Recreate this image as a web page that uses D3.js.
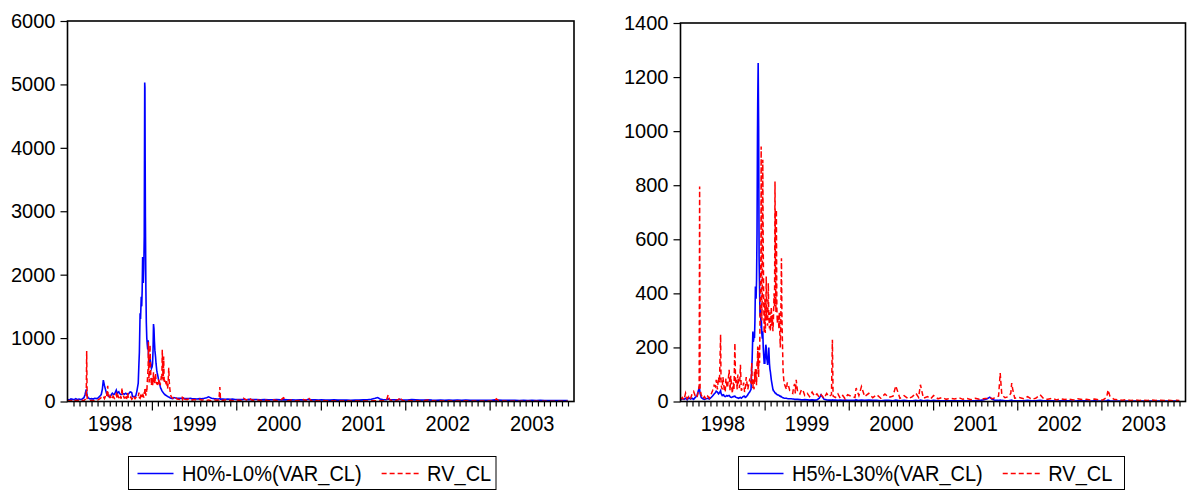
<!DOCTYPE html>
<html>
<head>
<meta charset="utf-8">
<script src="https://cdn.jsdelivr.net/npm/d3@7"></script>
<style>
body { margin: 0; background: #fff; }
text { font-family: "Liberation Sans", Arial, sans-serif; fill: #000; }
</style>
</head>
<body>
<div id="chart"></div>
<script>
var dates = [
  "1998-01-02","1998-01-09","1998-01-16","1998-01-23","1998-01-30",
  "1998-02-06","1998-02-13","1998-02-20","1998-02-27",
  "1998-03-06","1998-03-13","1998-03-18","1998-03-23","1998-03-25","1998-03-27",
  "1998-04-01","1998-04-08","1998-04-15","1998-04-22","1998-04-29",
  "1998-05-06","1998-05-13","1998-05-20","1998-05-27",
  "1998-06-01","1998-06-05","1998-06-10","1998-06-15","1998-06-19","1998-06-24","1998-06-26",
  "1998-07-01","1998-07-04","1998-07-07","1998-07-10","1998-07-14","1998-07-17","1998-07-21","1998-07-24","1998-07-31",
  "1998-08-04","1998-08-07","1998-08-11","1998-08-14","1998-08-18","1998-08-21","1998-08-25","1998-08-28",
  "1998-09-01","1998-09-04","1998-09-07","1998-09-10","1998-09-14","1998-09-18","1998-09-22","1998-09-29",
  "1998-10-02","1998-10-06","1998-10-09","1998-10-13","1998-10-16","1998-10-20","1998-10-23","1998-10-28",
  "1998-11-03","1998-11-06","1998-11-08","1998-11-11","1998-11-13","1998-11-16","1998-11-18","1998-11-20","1998-11-22","1998-11-25","1998-11-27","1998-11-29",
  "1998-12-01","1998-12-02","1998-12-03","1998-12-04","1998-12-06","1998-12-08","1998-12-10","1998-12-12","1998-12-14","1998-12-16","1998-12-17","1998-12-18","1998-12-20","1998-12-22","1998-12-24","1998-12-26","1998-12-28","1998-12-30",
  "1999-01-02","1999-01-04","1999-01-06","1999-01-08","1999-01-10","1999-01-12","1999-01-14","1999-01-17","1999-01-19","1999-01-22","1999-01-24","1999-01-26","1999-01-28","1999-01-30",
  "1999-02-01","1999-02-03","1999-02-06","1999-02-08","1999-02-11","1999-02-13","1999-02-15","1999-02-17","1999-02-19","1999-02-21","1999-02-23","1999-02-25","1999-02-27",
  "1999-03-02","1999-03-04","1999-03-06","1999-03-08","1999-03-10","1999-03-12","1999-03-15","1999-03-17","1999-03-19","1999-03-22","1999-03-25","1999-03-29",
  "1999-04-01","1999-04-06","1999-04-09","1999-04-14","1999-04-20","1999-04-26",
  "1999-05-03","1999-05-06","1999-05-11","1999-05-14","1999-05-18","1999-05-24",
  "1999-06-03","1999-06-10","1999-06-17","1999-06-24",
  "1999-07-05","1999-07-15","1999-07-26",
  "1999-08-05","1999-08-16","1999-08-26",
  "1999-09-03","1999-09-16","1999-09-27",
  "1999-10-07","1999-10-18","1999-10-22","1999-10-25",
  "1999-11-04","1999-11-15","1999-11-25",
  "1999-12-06","1999-12-16","1999-12-27",
  "2000-01-10","2000-01-28","2000-02-02","2000-02-14","2000-02-25","2000-03-10","2000-03-28","2000-04-14","2000-05-02","2000-05-19","2000-06-06","2000-06-23",
  "2000-07-11","2000-07-23","2000-08-10","2000-08-28","2000-09-15","2000-10-03","2000-10-18","2000-10-30","2000-11-07","2000-11-20","2000-12-08","2000-12-22",
  "2001-01-03","2001-01-22","2001-02-09","2001-02-27","2001-03-16","2001-04-04","2001-04-23","2001-05-10","2001-05-29","2001-06-15","2001-07-03","2001-07-20","2001-08-07",
  "2001-08-24","2001-09-04","2001-09-14","2001-09-28","2001-10-12","2001-10-19","2001-10-26","2001-11-09","2001-11-23","2001-12-04","2001-12-08","2001-12-12","2001-12-21",
  "2002-01-10","2002-01-29","2002-02-15","2002-03-05","2002-03-22","2002-04-10","2002-04-26","2002-05-14","2002-06-03","2002-06-20",
  "2002-07-09","2002-07-26","2002-08-14","2002-09-02","2002-09-20","2002-10-09","2002-10-28","2002-11-14","2002-12-03","2002-12-20",
  "2003-01-08","2003-01-24","2003-01-30","2003-02-07","2003-02-25","2003-03-14","2003-04-02","2003-04-21","2003-05-09","2003-05-28","2003-06-16",
  "2003-07-03","2003-07-22","2003-08-08","2003-08-27","2003-09-15","2003-10-02","2003-10-21","2003-11-07","2003-11-24","2003-12-05"
];

// H0%-L0%(VAR_CL), left panel
var varH0L0 = [
  30,25,40,35,28,
  45,30,38,32,
  40,60,110,189,150,90,
  55,40,45,38,50,
  45,55,80,110,
  200,336,250,180,126,110,95,
  73,80,90,110,130,120,110,120,178,
  126,140,152,130,115,112,110,118,
  120,115,125,130,118,110,120,152,
  150,140,75,78,80,82,85,160,
  290,600,780,1390,1300,1650,1500,1750,2280,1870,2100,2600,
  5030,4950,3800,2900,1800,1240,1000,900,820,967,760,700,652,600,680,620,560,520,
  546,600,800,1220,1150,950,810,700,600,494,450,420,380,340,
  320,290,240,210,190,170,160,150,140,130,120,115,105,
  100,95,90,85,80,75,70,66,62,55,50,47,
  46,60,58,55,52,50,
  50,52,49,48,50,45,
  45,48,50,42,
  44,40,45,
  42,50,60,
  73,50,45,
  42,40,48,38,
  40,36,38,
  35,38,32,
  32,30,36,28,34,30,32,26,30,25,28,30,
  26,30,25,28,24,26,28,24,34,26,25,24,
  26,24,22,25,22,24,22,20,24,22,25,28,35,
  50,63,40,28,30,40,32,28,26,30,34,30,24,
  24,30,26,22,24,26,22,20,22,20,
  22,20,21,19,22,20,20,18,20,19,
  20,25,22,21,18,18,17,18,16,17,16,
  17,16,17,16,16,15,16,15,16,15
];

// H5%-L30%(VAR_CL), right panel
var varH5L30 = [
  6,10,8,12,6,
  14,9,12,8,
  15,20,35,50,45,30,
  15,10,8,10,12,
  9,14,20,28,
  32,38,35,28,32,40,30,
  22,24,25,20,18,20,22,20,22,
  18,16,15,17,18,19,20,16,
  15,14,13,12,14,15,12,18,
  19,20,15,17,20,25,30,35,
  45,120,160,259,220,240,235,300,425,380,450,623,
  980,1100,1180,1252,1020,530,420,314,350,290,270,300,250,232,260,200,170,142,
  142,180,210,200,160,150,135,170,200,140,120,110,95,80,
  70,60,45,40,38,35,32,30,30,28,26,25,24,
  24,22,22,20,20,18,18,16,15,14,13,12,
  12,12,11,10,10,10,
  9,9,8,8,8,8,
  7,6,6,7,
  6,5,6,
  5,6,12,
  25,8,6,
  5,5,6,5,
  5,4,5,
  4,5,4,
  4,5,6,4,5,4,5,4,4,3,4,4,
  3,5,3,4,3,3,4,3,5,3,4,3,
  4,3,3,3,3,3,3,3,3,3,3,4,6,
  10,16,8,4,4,5,4,3,3,4,5,4,3,
  3,3,4,3,3,4,3,3,3,2,
  3,3,3,2,3,3,3,2,3,2,
  2,3,5,3,2,2,2,2,2,2,2,
  2,2,2,2,2,2,2,2,2,2
];

// RV_CL, drawn in both panels
var rvCL = [
  8,15,6,31,10,
  18,9,28,37,
  20,14,30,60,795,45,
  25,10,18,8,20,
  12,25,40,60,
  55,80,45,90,70,247,60,
  45,90,70,40,35,85,60,50,117,
  40,95,55,30,70,45,216,64,
  80,45,100,60,50,136,40,55,
  70,35,50,90,70,45,60,80,
  70,142,60,50,80,45,110,70,120,90,60,140,
  150,203,120,170,90,200,142,300,420,560,943,520,300,420,894,561,380,253,
  380,253,320,462,300,339,280,438,320,270,330,260,300,350,
  280,320,260,300,400,350,814,500,330,709,350,290,320,
  300,270,330,250,200,280,530,320,230,117,80,62,
  55,45,70,60,40,35,
  30,50,65,30,80,35,
  28,45,40,22,
  30,18,35,
  20,28,15,
  25,12,30,
  18,25,228,20,
  15,28,12,
  22,10,25,
  20,15,50,22,55,18,30,14,25,12,28,15,
  20,58,12,22,10,18,31,15,62,12,18,10,
  22,10,15,8,12,9,14,8,11,7,12,8,10,
  12,15,10,14,20,105,25,14,18,30,68,47,12,
  15,10,18,8,12,25,10,8,12,6,
  10,7,9,6,10,7,8,6,9,6,
  6,15,43,20,8,6,5,7,4,6,4,
  5,4,6,4,5,4,5,3,5,4
];

var yearLabels = ["1998", "1999", "2000", "2001", "2002", "2003"];
var yTicksLeft = [0, 1000, 2000, 3000, 4000, 5000, 6000];
var yTicksRight = [0, 200, 400, 600, 800, 1000, 1200, 1400];
var legendLeft = ["H0%-L0%(VAR_CL)", "RV_CL"];
var legendRight = ["H5%-L30%(VAR_CL)", "RV_CL"];

var w = 1187, h = 491;
var parseDate = d3.timeParse("%Y-%m-%d");
var svg = d3.select("#chart").append("svg").attr("width", w).attr("height", h);

var panels = [
    {left: 67.5, right: 574, top: 21, bottom: 401.5, yMax: 6000, yTicks: yTicksLeft,
     blue: varH0L0, legend: legendLeft, legendX: 128.5, legendW: 367.5},
    {left: 680.5, right: 1185.5, top: 23, bottom: 401.5, yMax: 1400, yTicks: yTicksRight,
     blue: varH5L30, legend: legendRight, legendX: 738.5, legendW: 386}
];

// the source picture is a little stretched vertically
var stretch = 1.1;

panels.forEach(function(p) {
    var xScale = d3.scaleTime()
        .domain([new Date(1998, 0, 1), new Date(2004, 0, 1)])
        .range([p.left, p.right]);
    var yScale = d3.scaleLinear().domain([0, p.yMax]).range([p.bottom, p.top]);

    var g = svg.append("g");

    // small ticks, about 14 a year
    var minor = [];
    yearLabels.forEach(function(yr) {
        for (var i = 1; i < 14; i++) {
            minor.push(d3.timeDay.offset(new Date(+yr, 0, 1), Math.round(i * 365 / 14)));
        }
    });
    var major = d3.timeYear.range(new Date(1999, 0, 1), new Date(2004, 0, 1));
    var labelDates = yearLabels.map(function(yr) { return new Date(+yr, 6, 2); });

    g.append("g").attr("transform", "translate(0," + p.bottom + ")")
        .call(d3.axisBottom(xScale).tickValues(minor).tickSize(5).tickFormat(""))
        .call(function(a) { a.select(".domain").remove(); });
    g.append("g").attr("transform", "translate(0," + p.bottom + ")")
        .call(d3.axisBottom(xScale).tickValues(major).tickSize(9).tickFormat(""))
        .call(function(a) { a.select(".domain").remove(); });
    g.append("g").attr("transform", "translate(0," + p.bottom + ")")
        .call(d3.axisBottom(xScale).tickValues(labelDates).tickSize(0).tickPadding(12.7)
            .tickFormat(function(d, i) { return yearLabels[i]; }))
        .call(function(a) { a.select(".domain").remove(); })
        .selectAll("text").style("font-size", "20px")
        .attr("transform", "scale(1," + stretch + ")");

    g.append("g").attr("transform", "translate(" + p.left + ",0)")
        .call(d3.axisLeft(yScale).tickValues(p.yTicks).tickSize(7).tickPadding(5)
            .tickFormat(d3.format("d")))
        .call(function(a) { a.select(".domain").remove(); })
        .selectAll("text").style("font-size", "20px");

    g.selectAll(".tick line").attr("stroke", "#000").attr("stroke-width", 1.2);
    g.selectAll(".tick text").attr("font-family", null);

    var rowsBlue = dates.map(function(d, i) { return {date: parseDate(d), v: p.blue[i]}; });
    var rowsRed = dates.map(function(d, i) { return {date: parseDate(d), v: rvCL[i]}; });

    var line = d3.line()
        .x(function(d) { return xScale(d.date); })
        .y(function(d) { return yScale(d.v); });

    g.append("path").datum(rowsBlue).attr("d", line)
        .attr("fill", "none").attr("stroke", "#0000ff").attr("stroke-width", 1.6);
    g.append("path").datum(rowsRed).attr("d", line)
        .attr("fill", "none").attr("stroke", "#ff0000").attr("stroke-width", 1.5)
        .attr("stroke-dasharray", "5,3");

    // frame round the plot
    g.append("rect").attr("x", p.left).attr("y", p.top)
        .attr("width", p.right - p.left).attr("height", p.bottom - p.top)
        .attr("fill", "none").attr("stroke", "#000").attr("stroke-width", 1.6);

    // legend
    var lg = svg.append("g").attr("transform", "translate(" + p.legendX + ",456.5)");
    lg.append("rect").attr("width", p.legendW).attr("height", 33)
        .attr("fill", "#fff").attr("stroke", "#000").attr("stroke-width", 1);
    lg.append("line").attr("x1", 9).attr("x2", 45).attr("y1", 17).attr("y2", 17)
        .attr("stroke", "#0000ff").attr("stroke-width", 1.5);
    var t1 = lg.append("text").attr("transform", "translate(53.5,24.8) scale(1," + stretch + ")")
        .style("font-size", "20px").text(p.legend[0]);
    var x2 = 53.5 + t1.node().getComputedTextLength() + 20;
    lg.append("line").attr("x1", x2).attr("x2", x2 + 37).attr("y1", 17).attr("y2", 17)
        .attr("stroke", "#ff0000").attr("stroke-width", 1.5).attr("stroke-dasharray", "5,3");
    lg.append("text").attr("transform", "translate(" + (x2 + 45.5) + ",24.8) scale(1," + stretch + ")")
        .style("font-size", "20px").text(p.legend[1]);
});
</script>
</body>
</html>
